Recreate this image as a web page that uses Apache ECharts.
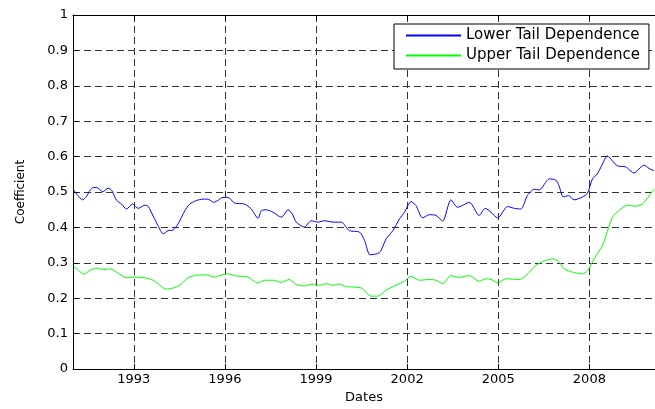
<!DOCTYPE html>
<html>
<head>
<meta charset="utf-8">
<script src="https://cdn.jsdelivr.net/npm/echarts@6/dist/echarts.min.js"></script>
<style>
html,body{margin:0;padding:0;background:#fff;}
#chart{width:655px;height:409px;}
</style>
</head>
<body>
<div id="chart"></div>
<script>
const seriesNames = ['Lower Tail Dependence', 'Upper Tail Dependence'];
const xTickYears = [1993, 1996, 1999, 2002, 2005, 2008];

const lowerYears = [1991.01,1991.12,1991.32,1991.45,1991.56,1991.67,1991.78,1991.98,1992.16,1992.27,1992.44,1992.60,1992.76,1992.96,1993.15,1993.37,1993.48,1993.64,1993.80,1993.97,1994.13,1994.30,1994.46,1994.68,1994.84,1995.06,1995.28,1995.45,1995.63,1995.78,1995.94,1996.10,1996.32,1996.65,1996.87,1997.09,1997.20,1997.36,1997.58,1997.86,1998.08,1998.22,1998.35,1998.62,1998.84,1999.06,1999.28,1999.56,1999.83,2000.10,2000.43,2000.60,2000.78,2001.09,2001.31,2001.53,2001.75,2001.91,2002.13,2002.29,2002.51,2002.73,2002.95,2003.17,2003.44,2003.66,2004.05,2004.37,2004.57,2004.76,2004.98,2005.31,2005.53,2005.74,2005.96,2006.18,2006.35,2006.68,2006.89,2007.00,2007.14,2007.31,2007.50,2007.77,2007.94,2008.10,2008.26,2008.43,2008.59,2008.76,2008.92,2009.19,2009.47,2009.63,2009.80,2009.96,2010.13];
const lowerValues = [0.508,0.494,0.478,0.488,0.505,0.513,0.513,0.501,0.511,0.505,0.476,0.466,0.452,0.466,0.454,0.463,0.459,0.432,0.405,0.382,0.391,0.393,0.410,0.447,0.466,0.476,0.480,0.480,0.471,0.477,0.485,0.485,0.469,0.466,0.452,0.426,0.447,0.450,0.443,0.429,0.450,0.438,0.415,0.401,0.419,0.415,0.419,0.415,0.415,0.391,0.387,0.363,0.323,0.329,0.368,0.391,0.424,0.443,0.473,0.462,0.427,0.436,0.434,0.418,0.478,0.457,0.471,0.434,0.454,0.443,0.427,0.459,0.454,0.452,0.490,0.508,0.506,0.537,0.534,0.518,0.486,0.490,0.478,0.486,0.497,0.537,0.551,0.579,0.602,0.588,0.574,0.571,0.554,0.565,0.576,0.567,0.560];

const upperYears = [1991.01,1991.18,1991.36,1991.56,1991.78,1992.00,1992.22,1992.49,1992.76,1993.00,1993.42,1993.64,1993.86,1994.06,1994.30,1994.52,1994.79,1995.06,1995.39,1995.67,1995.89,1996.10,1996.38,1996.76,1997.09,1997.31,1997.58,1997.86,1998.11,1998.35,1998.62,1998.90,1999.12,1999.34,1999.56,1999.77,1999.99,2000.49,2000.81,2001.03,2001.31,2001.64,2001.91,2002.13,2002.40,2002.73,2002.95,2003.17,2003.44,2003.72,2004.05,2004.37,2004.59,2004.76,2005.00,2005.25,2005.69,2005.91,2006.24,2006.57,2006.78,2006.98,2007.17,2007.44,2007.77,2007.94,2008.15,2008.43,2008.76,2008.98,2009.25,2009.52,2009.74,2009.96,2010.13];
const upperValues = [0.291,0.279,0.268,0.279,0.285,0.281,0.283,0.271,0.258,0.260,0.257,0.251,0.237,0.226,0.229,0.237,0.258,0.265,0.266,0.260,0.266,0.269,0.263,0.260,0.243,0.251,0.251,0.245,0.253,0.239,0.235,0.240,0.237,0.241,0.237,0.240,0.233,0.229,0.206,0.206,0.223,0.237,0.248,0.262,0.251,0.253,0.251,0.241,0.264,0.259,0.264,0.248,0.255,0.253,0.244,0.255,0.253,0.264,0.293,0.307,0.311,0.305,0.283,0.274,0.269,0.278,0.311,0.349,0.429,0.448,0.463,0.460,0.466,0.489,0.508];

function zip(xs, ys) { return xs.map((x, i) => [x, ys[i]]); }

const FONT = 'DejaVu Sans';
const gridDash = { color: '#333', width: 1, type: [7, 4] };

const chart = echarts.init(document.getElementById('chart'), null, { renderer: 'canvas' });
chart.setOption({
  animation: false,
  backgroundColor: '#fff',
  textStyle: { fontFamily: FONT },
  grid: { left: 73, top: 15, right: 0, bottom: 38, containLabel: false },
  legend: {
    orient: 'vertical',
    left: 394, top: 24,
    padding: [4, 9, 6, 11],
    itemWidth: 55, itemHeight: 14, itemGap: 5,
    backgroundColor: '#fff',
    borderColor: '#000', borderWidth: 1,
    itemStyle: { opacity: 0, borderWidth: 0 },
    textStyle: { fontFamily: FONT, fontSize: 15, color: '#000' },
    data: seriesNames
  },
  xAxis: [{
    type: 'value',
    position: 'bottom',
    min: 1991.0, max: 2010.16,
    name: 'Dates', nameLocation: 'middle', nameGap: 21,
    nameTextStyle: { fontFamily: FONT, fontSize: 13, color: '#000' },
    axisLine: { show: true, onZero: false, lineStyle: { color: '#000', width: 1 } },
    axisTick: { show: true, inside: true, length: 5, customValues: xTickYears, lineStyle: { color: '#000' } },
    axisLabel: { show: true, margin: 4, customValues: xTickYears, fontFamily: FONT, fontSize: 13, color: '#000', formatter: v => String(v) },
    splitLine: { show: true, lineStyle: gridDash }
  }, {
    type: 'value',
    position: 'top',
    min: 1991.0, max: 2010.16,
    axisLine: { show: true, onZero: false, lineStyle: { color: '#000', width: 1 } },
    axisTick: { show: true, inside: true, length: 5, customValues: xTickYears, lineStyle: { color: '#000' } },
    axisLabel: { show: false },
    splitLine: { show: false }
  }],
  yAxis: {
    type: 'value',
    min: 0, max: 1, interval: 0.1,
    name: 'Coefficient', nameLocation: 'middle', nameGap: 46, nameRotate: 90,
    nameTextStyle: { fontFamily: FONT, fontSize: 12, color: '#000' },
    axisLine: { show: true, lineStyle: { color: '#000', width: 1 } },
    axisTick: { show: true, inside: true, length: 5, lineStyle: { color: '#000' } },
    axisLabel: { margin: 5, fontFamily: FONT, fontSize: 13, color: '#000', formatter: v => String(Math.round(v * 10) / 10) },
    splitLine: { show: true, lineStyle: gridDash }
  },
  series: [{
    name: seriesNames[0], type: 'line', xAxisIndex: 0,
    data: zip(lowerYears, lowerValues),
    showSymbol: false, symbol: 'none', smooth: 0.25,
    lineStyle: { color: '#0000ff', width: 1 }, itemStyle: { color: '#0000ff' }
  }, {
    name: seriesNames[1], type: 'line', xAxisIndex: 0,
    data: zip(upperYears, upperValues),
    showSymbol: false, symbol: 'none', smooth: 0.25,
    lineStyle: { color: '#00ff00', width: 1 }, itemStyle: { color: '#00ff00' }
  }]
});
</script>
</body>
</html>
